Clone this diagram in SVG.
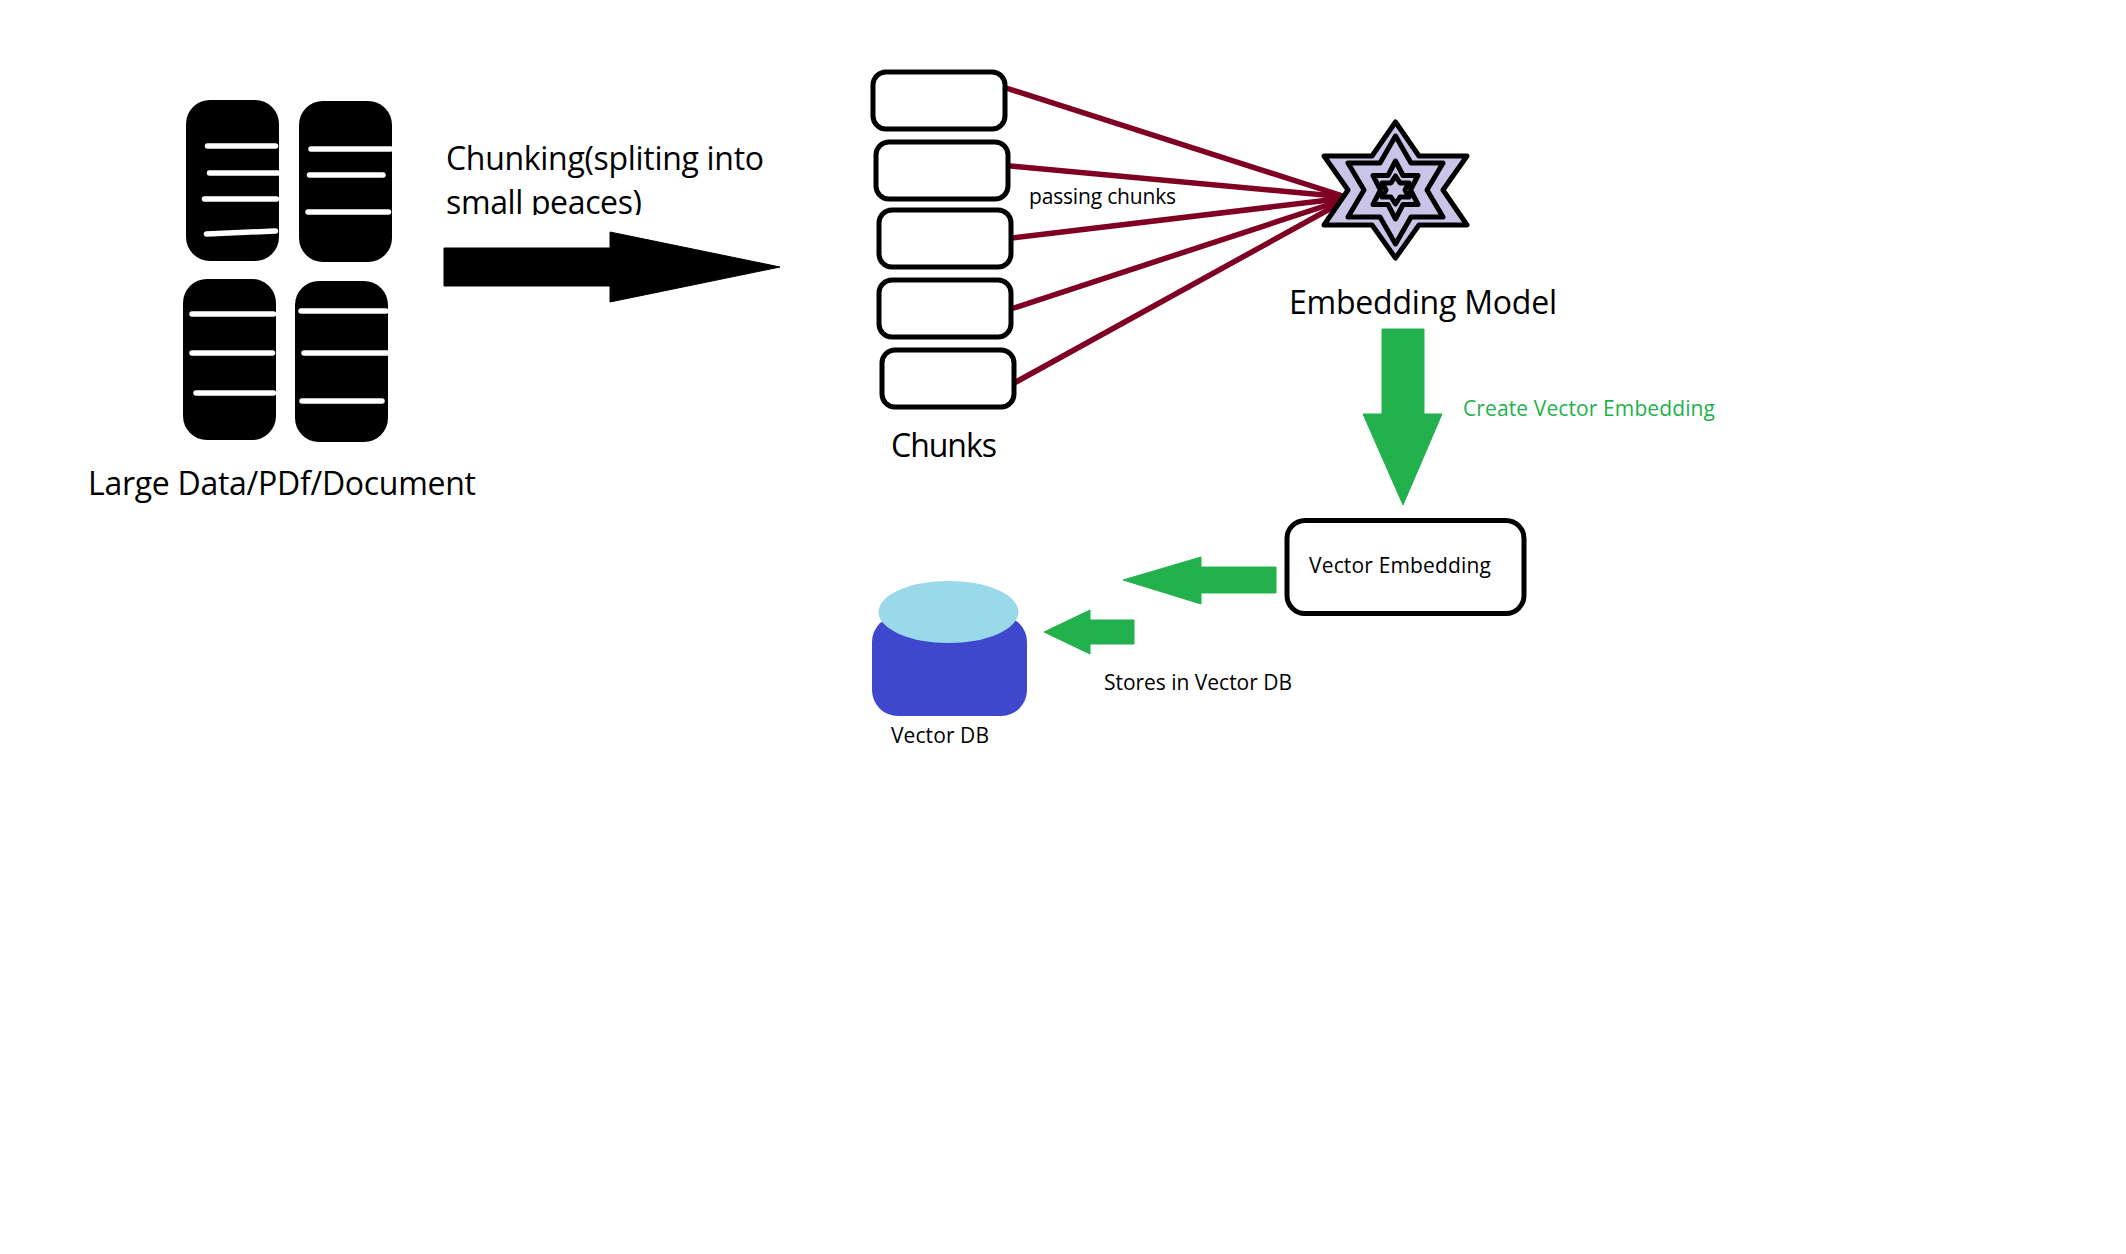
<svg xmlns="http://www.w3.org/2000/svg" width="2126" height="1254" viewBox="0 0 2126 1254">
<style>
.doc{fill:#000}
.bar{stroke:#fff;stroke-width:5.500;stroke-linecap:round;fill:none}
.chunk{fill:#fff;stroke:#000;stroke-width:5}
.link{stroke:#7f0022;stroke-width:5.500;stroke-linecap:round;fill:none}
.star{fill:#c8c5e8;stroke:#000;stroke-width:5;stroke-linejoin:round}
.green{fill:#22b14c;stroke:#22b14c;stroke-width:1;stroke-linejoin:round}
text{font-family:"Open Sans","Liberation Sans",sans-serif;fill:#000}
.lg{font-size:32px}
.sm{font-size:21px}
</style>
<defs><clipPath id="clipLine"><rect x="440" y="180" width="300" height="35"/></clipPath></defs>
<rect width="2126" height="1254" fill="#fff"/>
<g id="connectors">
<path class="link" d="M1006 88L1346 197"/>
<path class="link" d="M1011 166L1346 197"/>
<path class="link" d="M1012 238L1346 198"/>
<path class="link" d="M1014 308L1346 199"/>
<path class="link" d="M1016 382L1346 200"/>
<path fill="#000" stroke="#000" stroke-linejoin="round" d="M444 248H610V232L780 267L610 302V286H444Z"/>
<path class="green" d="M1382 329H1424V414H1442L1403 505L1363 414H1382Z"/>
<path class="green" d="M1276 567V593H1201V604L1123 580L1201 557V567Z"/>
<path class="green" d="M1134 620V644H1090V654L1044 632L1090 610V620Z"/>
</g>
<g id="doc1"><rect class="doc" x="186" y="100" width="93" height="161" rx="24"/>
<path class="bar" d="M207.500 146H275.500M209.500 173H278M204.500 199H276.500M206.500 234L275.500 231"/></g>
<g id="doc2"><rect class="doc" x="299" y="101" width="93" height="161" rx="24"/>
<path class="bar" d="M311 149H390.500M309.500 175H383M308 212H388.500"/></g>
<g id="doc3"><rect class="doc" x="183" y="279" width="93" height="161" rx="24"/>
<path class="bar" d="M192 314H273.500M192 353H272.500M196 393H273.500"/></g>
<g id="doc4"><rect class="doc" x="295" y="281" width="93" height="161" rx="24"/>
<path class="bar" d="M301 311H386M304 353H387M302 401H382"/></g>
<g id="docLabel"><text class="lg" x="88" y="495" textLength="388">Large Data/PDf/Document</text></g>
<g id="chunkingLabel"><text class="lg" x="446" y="170" textLength="318">Chunking(spliting into</text>
<text class="lg" x="446" y="214" textLength="196" clip-path="url(#clipLine)">small peaces)</text></g>
<g id="chunk1"><rect class="chunk" x="873" y="72" width="132" height="57" rx="13"/></g>
<g id="chunk2"><rect class="chunk" x="876" y="142" width="132" height="57" rx="13"/></g>
<g id="chunk3"><rect class="chunk" x="879" y="210" width="132" height="57" rx="13"/></g>
<g id="chunk4"><rect class="chunk" x="879" y="280" width="132" height="57" rx="13"/></g>
<g id="chunk5"><rect class="chunk" x="882" y="350" width="132" height="57" rx="13"/></g>
<g id="chunksLabel"><text class="lg" x="891" y="457" textLength="106">Chunks</text></g>
<g id="passingLabel"><text class="sm" x="1029" y="204" textLength="147">passing chunks</text></g>
<g id="embeddingModel">
<polygon class="star" points="1395.500,122 1419,156 1467,156 1443,190 1467,225 1419,225 1395.500,258 1372,225 1324,225 1348,190 1324,156 1372,156"/>
<polygon class="star" points="1395.500,136 1411,163 1443,163 1427,190 1443,217 1411,217 1395.500,244 1380,217 1348,217 1364,190 1348,163 1380,163"/>
<polygon class="star" points="1395.500,161 1403,175.500 1418,175.500 1410.500,190 1418,204.500 1403,204.500 1395.500,219 1388,204.500 1373,204.500 1380.500,190 1373,175.500 1388,175.500"/>
<polygon class="star" points="1395.500,176 1400,183 1409,183 1405,190 1409,197 1400,197 1395.500,204 1391,197 1382,197 1386,190 1382,183 1391,183"/>
<text class="lg" x="1289" y="314" textLength="268">Embedding Model</text></g>
<g id="createLabel"><text class="sm" x="1463" y="416" textLength="252" style="fill:#22b14c">Create Vector Embedding</text></g>
<g id="vectorEmbedding"><rect class="chunk" x="1287" y="520.500" width="237" height="93" rx="18"/>
<text class="sm" x="1309" y="573" textLength="182">Vector Embedding</text></g>
<g id="storesLabel"><text class="sm" x="1104" y="690" textLength="188">Stores in Vector DB</text></g>
<g id="vectorDB"><rect x="872" y="616" width="155" height="100" rx="26" fill="#3f48cc"/>
<ellipse cx="948.500" cy="612" rx="70" ry="31" fill="#99d9ea"/>
<text class="sm" x="891" y="743" textLength="98">Vector DB</text></g>
</svg>
